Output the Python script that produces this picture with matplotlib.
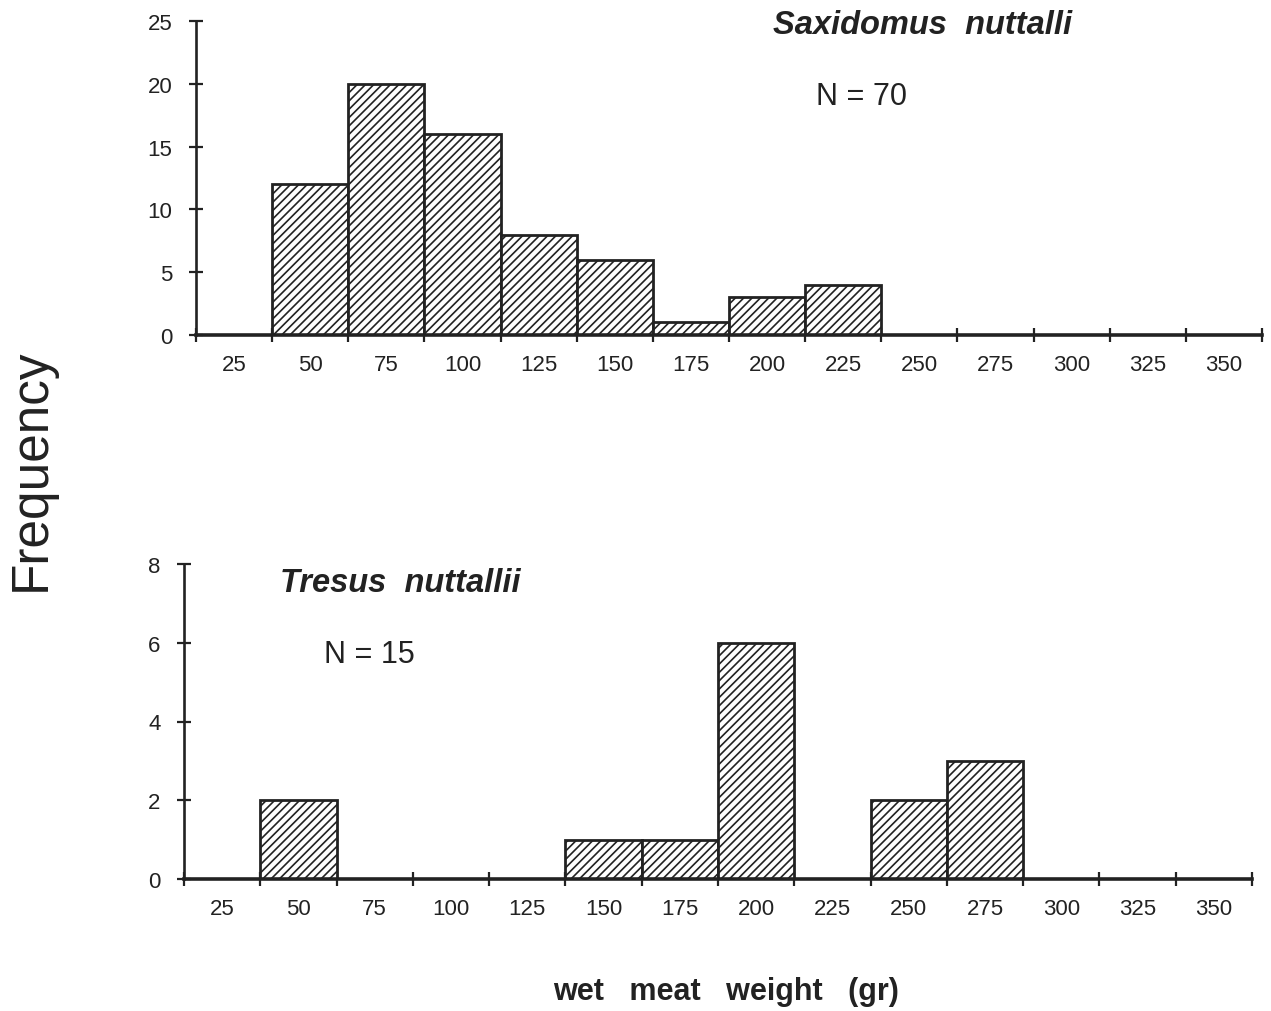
import matplotlib
matplotlib.use('Agg')
import matplotlib.pyplot as plt

plt.rcParams['font.family'] = ['Liberation Sans', 'DejaVu Sans']
plt.rcParams['hatch.linewidth'] = 1.2

# bin centres (gr) and counts
bins = [25, 50, 75, 100, 125, 150, 175, 200, 225, 250, 275, 300, 325, 350]
saxidomus = [0, 12, 20, 16, 8, 6, 1, 3, 4, 0, 0, 0, 0, 0]
tresus = [0, 2, 0, 0, 0, 1, 1, 6, 0, 2, 3, 0, 0, 0]
top_yticks = [0, 5, 10, 15, 20, 25]
bot_yticks = [0, 2, 4, 6, 8]

ink = '#222222'
W, H = 1271, 1012
fig = plt.figure(figsize=(W / 100, H / 100), dpi=100)


def hist_axes(rect, counts, yticks):
    ax = fig.add_axes(rect)
    nz = [(b, c) for b, c in zip(bins, counts) if c > 0]
    ax.bar([b for b, c in nz], [c for b, c in nz], width=25, align='center',
           color='white', edgecolor=ink, linewidth=2, hatch='////', zorder=2)
    edges = [b - 12.5 for b in bins] + [bins[-1] + 12.5]
    ax.set_xlim(edges[0], edges[-1])
    ax.set_ylim(0, yticks[-1])
    ax.set_xticks(edges)
    ax.set_xticklabels([])
    ax.set_xticks(bins, minor=True)
    ax.set_xticklabels([str(b) for b in bins], minor=True)
    ax.set_yticks(yticks)
    ax.tick_params(axis='x', which='major', direction='inout', length=10, width=1.6, color=ink)
    ax.tick_params(axis='x', which='minor', length=0, pad=14, labelsize=16, labelcolor=ink)
    ax.tick_params(axis='y', direction='inout', length=10, width=1.6, pad=12,
                   labelsize=16, color=ink, labelcolor=ink)
    for s in ['top', 'right']:
        ax.spines[s].set_visible(False)
    ax.spines['left'].set_linewidth(1.9)
    ax.spines['bottom'].set_linewidth(2.6)
    ax.spines['left'].set_color(ink)
    ax.spines['bottom'].set_color(ink)
    ax.spines['bottom'].set_zorder(3)
    return ax


hist_axes([196 / W, 1 - 336 / H, 1066 / W, 314 / H], saxidomus, top_yticks)
hist_axes([184 / W, 1 - 880 / H, 1068 / W, 315 / H], tresus, bot_yticks)

fig.text(923 / W, 1 - 25 / H, 'Saxidomus  nuttalli', fontsize=23.5, fontweight='bold',
         style='italic', color=ink, ha='center', va='center')
fig.text(862 / W, 1 - 97 / H, 'N = 70', fontsize=22, color=ink, ha='center', va='center')
fig.text(400 / W, 1 - 583 / H, 'Tresus  nuttallii', fontsize=23.5, fontweight='bold',
         style='italic', color=ink, ha='center', va='center')
fig.text(369 / W, 1 - 655 / H, 'N = 15', fontsize=22, color=ink, ha='center', va='center')

fig.text(31 / W, 1 - 470 / H, 'Frequency', fontsize=37, rotation=90, color=ink,
         ha='center', va='center')
fig.text(726 / W, 1 - 992 / H, 'wet   meat   weight   (gr)', fontsize=22, fontweight='bold',
         color=ink, ha='center', va='center')

fig.savefig('out.png', dpi=100)
